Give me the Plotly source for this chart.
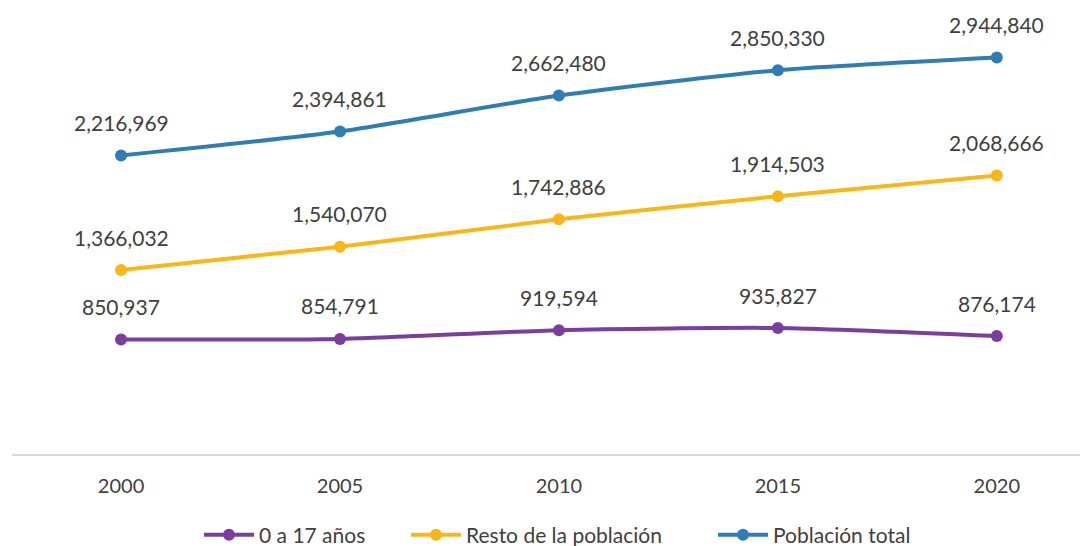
import plotly.graph_objects as go

years = [2000, 2005, 2010, 2015, 2020]
series_names = ["0 a 17 años", "Resto de la población", "Población total"]
menores = [850937, 854791, 919594, 935827, 876174]
resto = [1366032, 1540070, 1742886, 1914503, 2068666]
total = [2216969, 2394861, 2662480, 2850330, 2944840]
colors = ["#7A3F9D", "#F7B718", "#2F7DB2"]
legend_ids = ["legend", "legend2", "legend3"]
legend_x = [0.1751, 0.3689, 0.6564]

FONT = "Lato, sans-serif"
TXT = "#404040"

fig = go.Figure()
annotations = []
for name, vals, col, lid in zip(series_names, [menores, resto, total], colors, legend_ids):
    fig.add_trace(go.Scatter(
        x=years, y=vals, name=name, mode="lines+markers", legend=lid,
        line=dict(color=col, width=4, shape="spline", smoothing=0.6),
        marker=dict(color=col, size=12),
    ))
    for x, v in zip(years, vals):
        annotations.append(dict(
            x=x, y=v, text=f"{v:,}", showarrow=False, yshift=33,
            font=dict(family=FONT, size=21, color=TXT),
        ))

legend_common = dict(orientation="h", y=-0.182, yanchor="middle", xanchor="left",
                     itemwidth=50, font=dict(family=FONT, size=21, color=TXT),
                     bgcolor="rgba(0,0,0,0)")

fig.update_layout(
    width=1092, height=546,
    margin=dict(l=4, r=20, t=1, b=100, autoexpand=False),
    paper_bgcolor="white", plot_bgcolor="white",
    annotations=annotations,
    showlegend=True,
    legend=dict(x=legend_x[0], **legend_common),
    legend2=dict(x=legend_x[1], **legend_common),
    legend3=dict(x=legend_x[2], **legend_common),
    font=dict(family=FONT, color=TXT),
)
fig.update_xaxes(range=[1997.51, 2021.9], tickvals=years, ticktext=[str(y) for y in years],
                 showgrid=False, zeroline=False, showline=True, linecolor="#D9D9D9", linewidth=2,
                 ticks="", tickfont=dict(family=FONT, size=20, color=TXT), ticklabelstandoff=13,
                 automargin=False)
fig.update_yaxes(range=[0, 3305000], visible=False, showgrid=False, zeroline=False, automargin=False)

fig.write_html("out.html")
